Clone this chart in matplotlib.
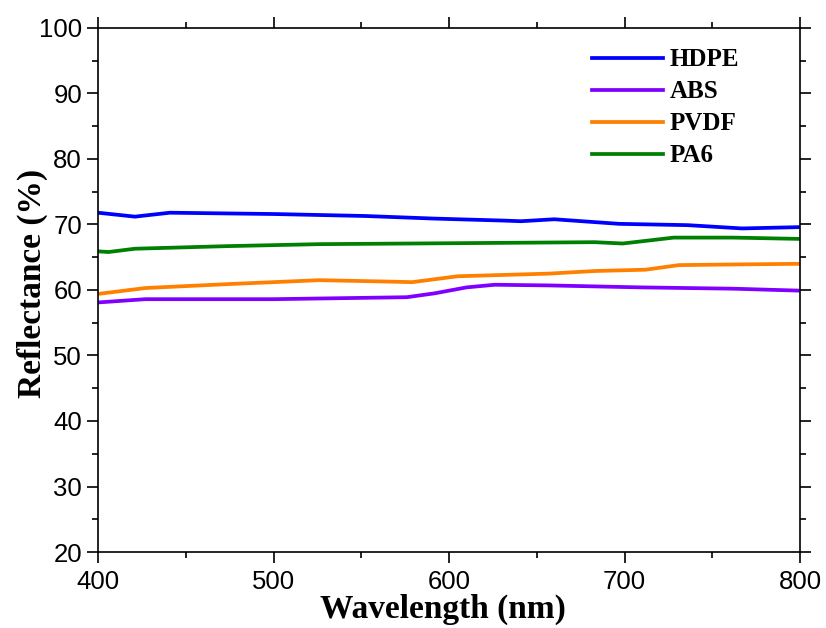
import numpy as np
import matplotlib
matplotlib.use("Agg")
import matplotlib.pyplot as plt
from matplotlib.ticker import MultipleLocator

# reflectance spectra (wavelength in nm, reflectance in %)
hdpe_wl = [400, 421, 441, 500, 552, 592, 631, 641, 660, 697, 736, 767, 800]
hdpe_r = [71.8, 71.2, 71.8, 71.6, 71.3, 70.9, 70.6, 70.5, 70.8, 70.1, 69.9, 69.4, 69.6]

abs_wl = [400, 427, 500, 576, 592, 610, 626, 657, 709, 762, 800]
abs_r = [58.1, 58.6, 58.6, 58.9, 59.5, 60.4, 60.8, 60.7, 60.4, 60.2, 59.9]

pvdf_wl = [400, 427, 474, 526, 563, 579, 605, 657, 683, 712, 731, 762, 800]
pvdf_r = [59.4, 60.3, 60.9, 61.5, 61.3, 61.2, 62.1, 62.5, 62.9, 63.1, 63.8, 63.9, 64.0]

pa6_wl = [400, 406, 421, 474, 526, 579, 631, 683, 699, 712, 728, 762, 800]
pa6_r = [65.9, 65.8, 66.3, 66.7, 67.0, 67.1, 67.2, 67.3, 67.1, 67.5, 68.0, 68.0, 67.8]

series = [
    ("HDPE", hdpe_wl, hdpe_r, "#0000ff"),
    ("ABS", abs_wl, abs_r, "#8000ff"),
    ("PVDF", pvdf_wl, pvdf_r, "#ff8000"),
    ("PA6", pa6_wl, pa6_r, "#008000"),
]

fig = plt.figure(figsize=(8.26, 6.28), dpi=100)
ax = fig.add_axes([98/826, 76/628, 702/826, 524/628])

for name, wl, r, col in series:
    ax.plot(wl, r, color=col, lw=2.7, label=name)

ax.set_xlim(400, 800)
ax.set_ylim(20, 100)
ax.xaxis.set_major_locator(MultipleLocator(100))
ax.xaxis.set_minor_locator(MultipleLocator(50))
ax.yaxis.set_major_locator(MultipleLocator(10))
ax.yaxis.set_minor_locator(MultipleLocator(5))

ax.tick_params(which="both", direction="out", top=True, right=True,
               labeltop=False, labelright=False, width=1.2)
ax.tick_params(which="major", length=8)
ax.tick_params(which="minor", length=4.5)
ax.tick_params(axis="x", pad=5)
for lab in ax.get_xticklabels() + ax.get_yticklabels():
    lab.set_fontfamily("Liberation Sans")
    lab.set_fontsize(18.5)
for sp in ax.spines.values():
    sp.set_linewidth(1.2)

ax.set_xlabel("Wavelength (nm)", family="Liberation Serif", weight="bold",
              fontsize=24)
ax.set_ylabel("Reflectance (%)", family="Liberation Serif", weight="bold",
              fontsize=24)
ax.xaxis.set_label_coords(0.491, -0.079)
ax.yaxis.set_label_coords(-0.071, 0.513)

leg = ax.legend(loc="upper left", frameon=False, handlelength=2.85,
                handletextpad=0.25, labelspacing=0.36, borderpad=0,
                borderaxespad=0, bbox_to_anchor=(0.7037, 0.961),
                prop={"family": "Liberation Serif", "weight": "bold", "size": 18})

fig.savefig("out.png", dpi=100)
